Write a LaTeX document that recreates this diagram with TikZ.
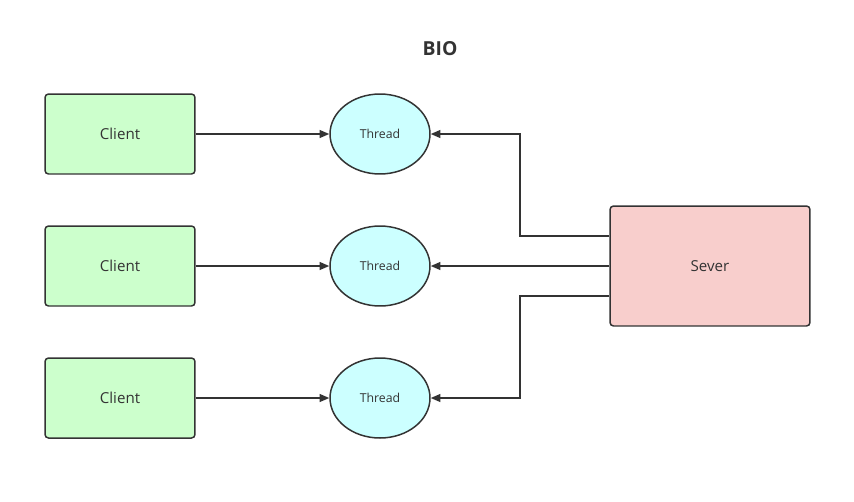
\documentclass[tikz,border=0pt]{standalone}
\usepackage{fontspec}
\setmainfont{Open Sans}
\usetikzlibrary{arrows.meta,positioning,shapes.geometric}
\definecolor{BioGreen}{HTML}{CCFFCC}
\definecolor{BioCyan}{HTML}{CCFFFF}
\definecolor{BioPink}{HTML}{F8CECC}
\definecolor{BioInk}{HTML}{333333}

\begin{document}
\begin{tikzpicture}[
    x=0.02cm, y=-0.02cm,
    client/.style={
      rounded corners=2pt,
      draw=BioInk,
      fill=BioGreen,
      line width=0.85pt,
      minimum width=3cm,
      minimum height=1.6cm,
      font=\fontsize{8.6}{10}\selectfont,
      text=BioInk
    },
    thread/.style={
      ellipse,
      draw=BioInk,
      fill=BioCyan,
      line width=0.85pt,
      minimum width=2cm,
      minimum height=1.6cm,
      inner sep=0pt,
      font=\fontsize{7}{8}\selectfont,
      text=BioInk
    },
    sever/.style={
      rounded corners=2pt,
      draw=BioInk,
      fill=BioPink,
      line width=0.85pt,
      minimum width=4cm,
      minimum height=2.4cm,
      font=\fontsize{8.6}{10}\selectfont,
      text=BioInk
    },
    arrow/.style={-{Triangle[length=5.5pt,width=4.5pt]}, line width=0.85pt, draw=BioInk}
  ]
  \useasboundingbox (0,0) rectangle (854,501);

  \node[font=\bfseries\fontsize{11}{13}\selectfont, text=BioInk] (title) at (440,49) {BIO};

  \node[client] (clientA) at (120,134) {Client};
  \node[client] (clientB) at (120,266) {Client};
  \node[client] (clientC) at (120,398) {Client};

  \node[thread] (threadA) at (380,134) {Thread};
  \node[thread] (threadB) at (380,266) {Thread};
  \node[thread] (threadC) at (380,398) {Thread};

  \node[sever] (sever) at (710,266) {Sever};

  \draw[arrow] (clientA) -- (threadA);
  \draw[arrow] (clientB) -- (threadB);
  \draw[arrow] (clientC) -- (threadC);

  \draw[arrow] ([yshift=0.6cm]sever.west) -| (520,134) -- (threadA.east);
  \draw[arrow] (sever.west) -- (threadB.east);
  \draw[arrow] ([yshift=-0.6cm]sever.west) -| (520,398) -- (threadC.east);
\end{tikzpicture}
\end{document}
